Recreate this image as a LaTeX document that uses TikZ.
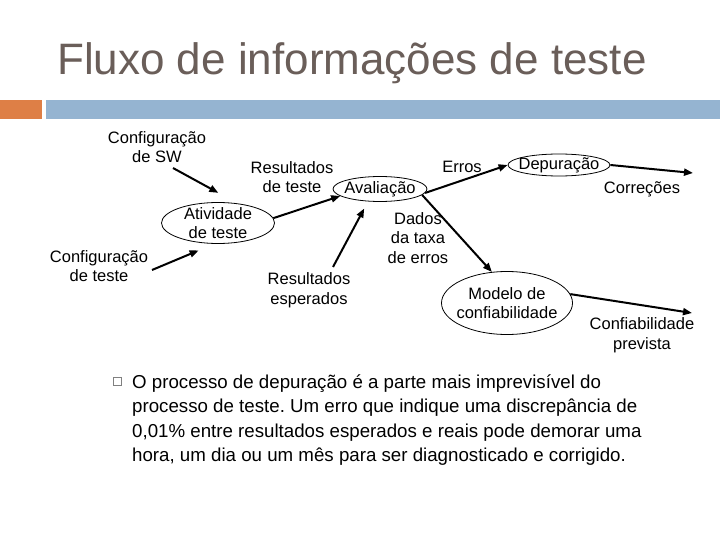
\documentclass[tikz,border=0pt]{standalone}
\usepackage{fontspec}
\setmainfont{Liberation Sans}
\usepackage{tikz}
\usetikzlibrary{arrows.meta,shapes.geometric}

\definecolor{titlegray}{RGB}{106,94,89}
\definecolor{barorange}{RGB}{222,127,70}
\definecolor{barblue}{RGB}{149,180,209}
\frenchspacing

\begin{document}
\begin{tikzpicture}[
        x=1pt,
        y=-1pt,
        font=\fontsize{16.5}{19.5}\selectfont,
        flow/.style={-{Triangle[length=9pt,width=7pt]}, line width=2pt},
        proc/.style={ellipse, draw, line width=0.8pt, fill=white, inner sep=0pt},
        lab/.style={align=center, inner sep=0pt}
    ]
        \useasboundingbox (0,0) rectangle (720,540);
        \fill[white] (0,0) rectangle (720,540);

        \node[anchor=base west, inner sep=0pt, text=titlegray, font=\fontsize{44}{50}\selectfont] (title) at (57,75) {Fluxo de informações de teste};
        \fill[barorange] (0,100) rectangle (42,119);
        \fill[barblue] (46,100) rectangle (720,119);

        \node[proc, minimum width=113pt, minimum height=41pt] (ativ) at (218,223) {};
        \node[lab] (ativtxt) at (ativ) {Atividade\\de teste};
        \node[proc, minimum width=94pt, minimum height=25pt] (aval) at (380,189) {};
        \node[lab] (avaltxt) at (aval) {Avaliação};
        \node[proc, minimum width=102pt, minimum height=22pt] (depur) at (559,165) {};
        \node[lab] (depurtxt) at (depur) {Depuração};
        \node[proc, minimum width=131pt, minimum height=63pt] (modelo) at (507,303) {};
        \node[lab] (modelotxt) at (modelo) {Modelo de\\confiabilidade};

        \node[lab] (cfgsw) at (157,147) {Configuração\\de SW};
        \node[lab] (cfgtst) at (99,266) {Configuração\\de teste};
        \node[lab] (restst) at (292,177) {Resultados\\de teste};
        \node[lab] (resesp) at (309,290) {Resultados\\esperados};
        \node[lab] (erros) at (462,167) {Erros};
        \node[lab] (dados) at (418,238) {Dados\\da taxa\\de erros};
        \node[lab] (corr) at (642,189) {Correções};
        \node[lab] (confprev) at (642,335) {Confiabilidade\\prevista};

        \coordinate (swtail) at (173,168);
        \coordinate (tsttail) at (152,270);
        \coordinate (esptail) at (333,267);
        \coordinate (corrhead) at (693,173);
        \coordinate (confhead) at (692,313);

        \draw[flow, shorten >=22pt] (swtail) -- (ativ.45);
        \draw[flow, shorten >=17pt] (tsttail) -- (ativ.260);
        \draw[flow] (ativ.5) -- (aval.190);
        \draw[flow, shorten >=8pt] (esptail) -- (aval.226);
        \draw[flow] (aval.-5) -- (depur.west);
        \draw[flow] (depur.east) -- (corrhead);
        \draw[flow] (aval.-8) -- (modelo.116);
        \draw[flow] (modelo.8) -- (confhead);

        \draw[gray, line width=0.7pt] (113,377) rectangle (121,385);
        \node[anchor=north west, inner sep=0pt, align=left, font=\fontsize{18.7}{24.5}\selectfont] (nota) at (132,374.4) {O processo de depuração é a parte mais imprevisível do\\
            processo de teste. Um erro que indique uma discrepância de\\
            0,01\% entre resultados esperados e reais pode demorar uma\\
            hora, um dia ou um mês para ser diagnosticado e corrigido.};
    \end{tikzpicture}
\end{document}
